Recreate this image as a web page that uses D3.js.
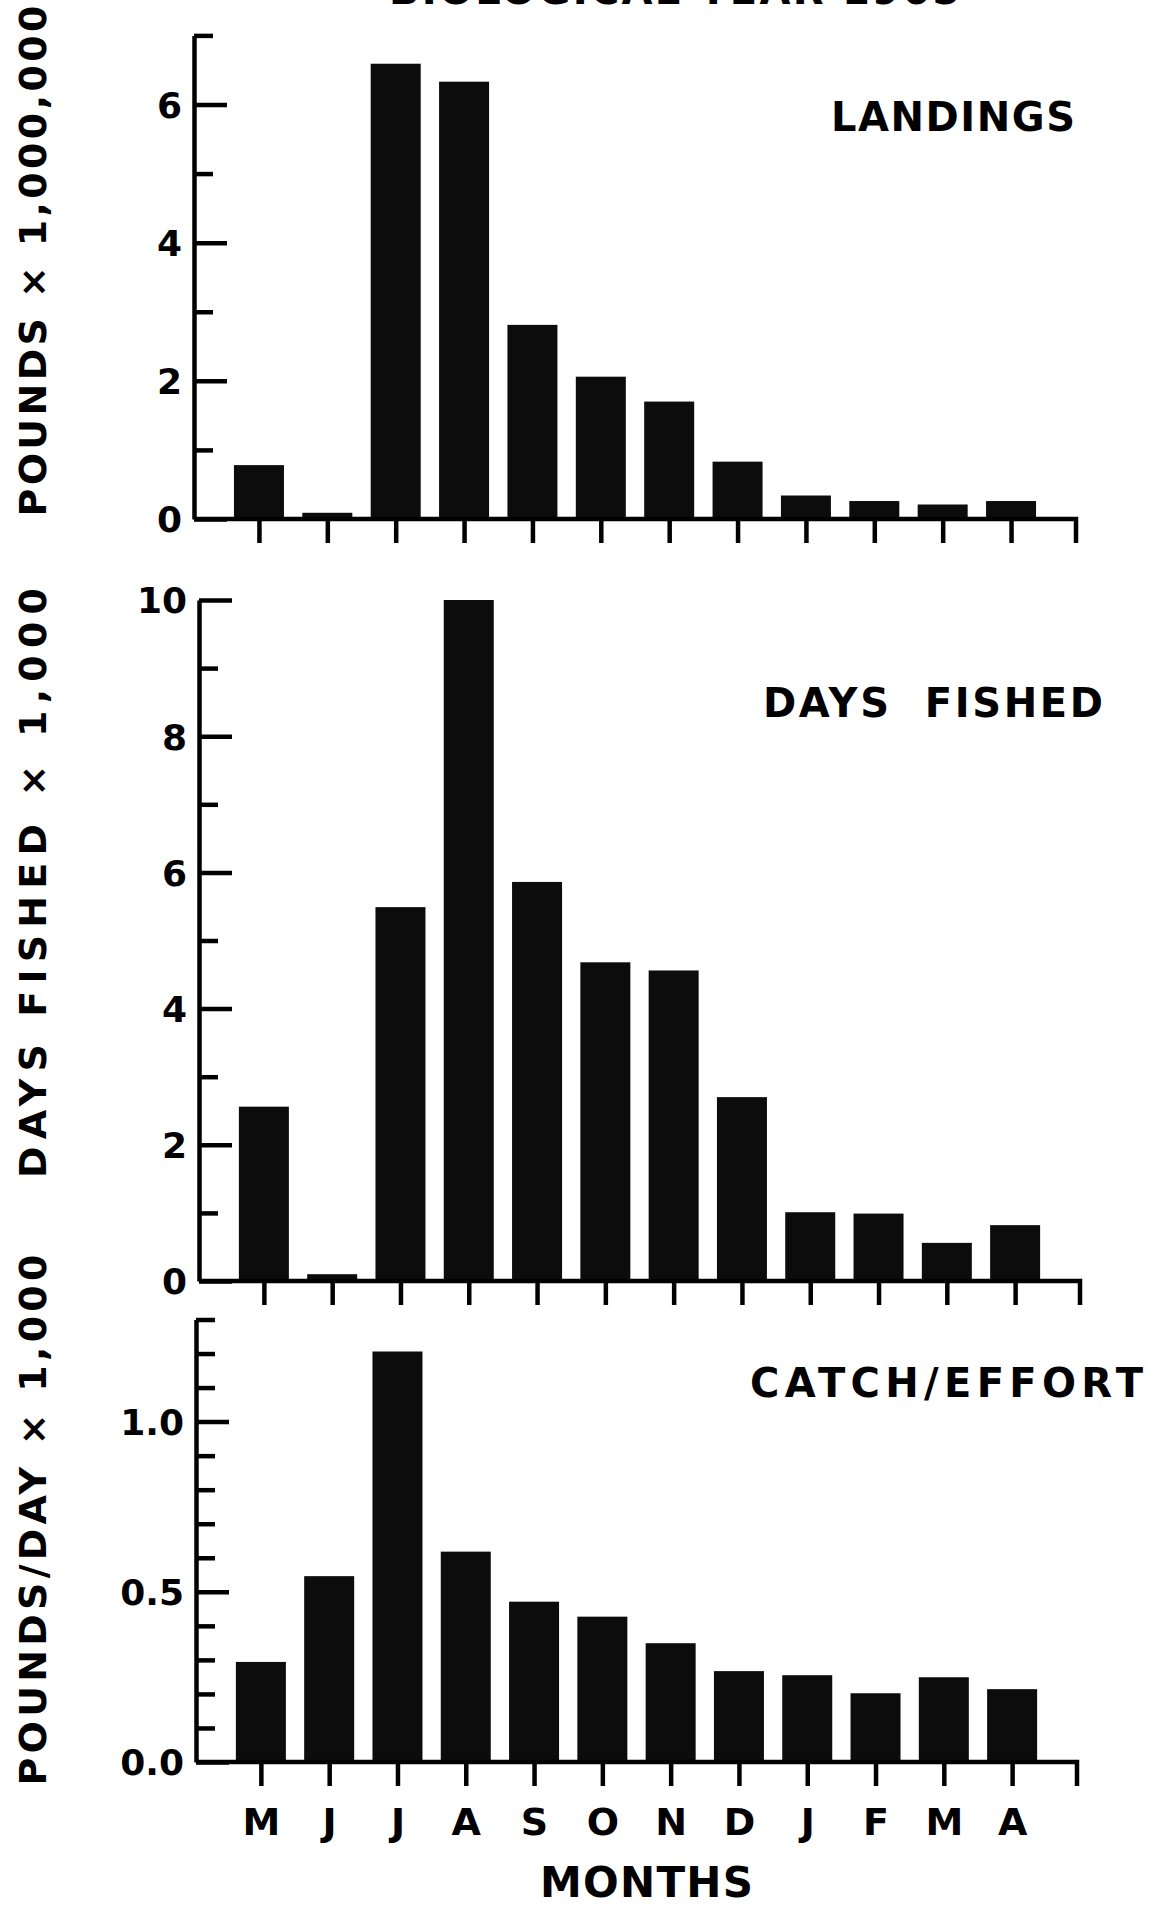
<!DOCTYPE html>
<html>
<head>
<meta charset="utf-8">
<script src="https://cdn.jsdelivr.net/npm/d3@7"></script>
<style>
  body { margin: 0; background: #fff; }
  text { font-family: "DejaVu Sans", "Liberation Sans", Arial, sans-serif; font-weight: bold; fill: #000; }
</style>
</head>
<body>
<div id="chart"></div>
<script>
// Months of the biological year (May - April)
const months = ["M", "J", "J", "A", "S", "O", "N", "D", "J", "F", "M", "A"];

// Landings, pounds x 1,000,000
const landings = [0.78, 0.09, 6.59, 6.33, 2.81, 2.06, 1.70, 0.83, 0.34, 0.26, 0.21, 0.26];
// Days fished x 1,000
const daysFished = [2.56, 0.10, 5.49, 10.0, 5.86, 4.68, 4.56, 2.70, 1.01, 0.99, 0.56, 0.82];
// Catch per unit effort, pounds/day x 1,000
const catchEffort = [0.294, 0.546, 1.206, 0.618, 0.471, 0.427, 0.349, 0.267, 0.255, 0.202, 0.249, 0.214];

// Tick values
const landingsMajor = [0, 2, 4, 6];
const landingsMinor = [1, 3, 5, 7];
const daysMajor = [0, 2, 4, 6, 8, 10];
const daysMinor = [1, 3, 5, 7, 9];
const cpueMajor = [0.0, 0.5, 1.0];
const cpueMinor = [0.1, 0.2, 0.3, 0.4, 0.6, 0.7, 0.8, 0.9, 1.1, 1.2, 1.3];

const width = 1149, height = 1905;

const panels = [
    { values: landings, top: 7, major: landingsMajor, minor: landingsMinor, fmt: d3.format("d"),
      title: "LANDINGS", yLabel: "POUNDS \u00d7 1,000,000",
      yBase: 519, yTop: 35.4, xLeft: 194, xRight: 1076,
      titleX: 831, titleY: 131, titleLen: 244, labelMid: 261, labelLen: 511, monthLabels: false },
    { values: daysFished, top: 10, major: daysMajor, minor: daysMinor, fmt: d3.format("d"),
      title: "DAYS  FISHED", yLabel: "DAYS FISHED \u00d7 1,000",
      yBase: 1281, yTop: 600, xLeft: 199, xRight: 1080,
      titleX: 763, titleY: 717, titleLen: 340, labelMid: 883, labelLen: 590, monthLabels: false },
    { values: catchEffort, top: 1.3, major: cpueMajor, minor: cpueMinor, fmt: d3.format(".1f"),
      title: "CATCH/EFFORT", yLabel: "POUNDS/DAY \u00d7 1,000",
      yBase: 1762, yTop: 1319.5, xLeft: 196, xRight: 1077,
      titleX: 750, titleY: 1397, titleLen: 393, labelMid: 1520, labelLen: 531, monthLabels: true }
];

const svg = d3.select("#chart")
    .append("svg")
    .attr("width", width)
    .attr("height", height)
    .style("background", "#fff");

// Title at the very top (cut off by the page edge in the original)
svg.append("text")
    .attr("x", 389)
    .attr("y", 4)
    .attr("textLength", 571)
    .attr("lengthAdjust", "spacing")
    .style("font-size", "40px")
    .text("BIOLOGICAL YEAR 1965");

const barWidth = 50;
const stroke = 4.5;

panels.forEach(p => {
    const g = svg.append("g");

    const x = d3.scalePoint()
        .domain(d3.range(months.length))
        .range([p.xLeft, p.xRight])
        .padding(0.95);

    const y = d3.scaleLinear()
        .domain([0, p.top])
        .range([p.yBase, p.yTop]);

    // Bars
    g.selectAll("rect.bar")
        .data(p.values)
        .join("rect")
        .attr("class", "bar")
        .attr("x", (d, i) => x(i) - barWidth / 2)
        .attr("y", d => y(d))
        .attr("width", barWidth)
        .attr("height", d => y(0) - y(d))
        .attr("fill", "#0c0c0c");

    // Y axis: minor ticks, then labelled major ticks (both pointing inward)
    const minorAxis = g.append("g")
        .attr("transform", `translate(${p.xLeft},0)`)
        .call(d3.axisLeft(y).tickValues(p.minor).tickSizeInner(-19).tickSizeOuter(0).tickFormat(""));
    minorAxis.select(".domain").remove();

    const majorAxis = g.append("g")
        .attr("transform", `translate(${p.xLeft},0)`)
        .call(d3.axisLeft(y).tickValues(p.major).tickSizeInner(-33).tickSizeOuter(0)
            .tickPadding(12).tickFormat(p.fmt));
    majorAxis.select(".domain").attr("stroke-width", stroke);
    majorAxis.selectAll("text").style("font-size", "36px").attr("dy", "0.36em");

    g.selectAll(".tick line").attr("stroke", "#000").attr("stroke-width", stroke);

    // X axis: ticks downward at month centres
    const xAxis = g.append("g")
        .attr("transform", `translate(0,${p.yBase})`)
        .call(d3.axisBottom(x).tickSizeInner(24).tickSizeOuter(0).tickPadding(22)
            .tickFormat(i => p.monthLabels ? months[i] : ""));
    xAxis.select(".domain").remove();
    xAxis.selectAll("line").attr("stroke", "#000").attr("stroke-width", stroke);
    xAxis.selectAll("text").style("font-size", "38px");

    // Baseline with closing tick at the right end
    const [rx0, rx1] = x.range();
    g.append("path")
        .attr("d", d3.line()([[rx0, y(0)], [rx1, y(0)], [rx1, y(0) + 24]]))
        .attr("fill", "none")
        .attr("stroke", "#000")
        .attr("stroke-width", stroke);

    // Panel title
    g.append("text")
        .attr("x", p.titleX)
        .attr("y", p.titleY)
        .attr("textLength", p.titleLen)
        .attr("lengthAdjust", "spacing")
        .style("font-size", "40px")
        .style("white-space", "pre")
        .text(p.title);

    // Rotated y-axis label
    g.append("text")
        .attr("transform", `translate(46,${p.labelMid}) rotate(-90)`)
        .attr("x", -p.labelLen / 2)
        .attr("textLength", p.labelLen)
        .attr("lengthAdjust", "spacing")
        .style("font-size", "38px")
        .text(p.yLabel);
});

// X-axis title
svg.append("text")
    .attr("x", 540)
    .attr("y", 1897)
    .attr("textLength", 213)
    .attr("lengthAdjust", "spacing")
    .style("font-size", "42px")
    .text("MONTHS");
</script>
</body>
</html>
